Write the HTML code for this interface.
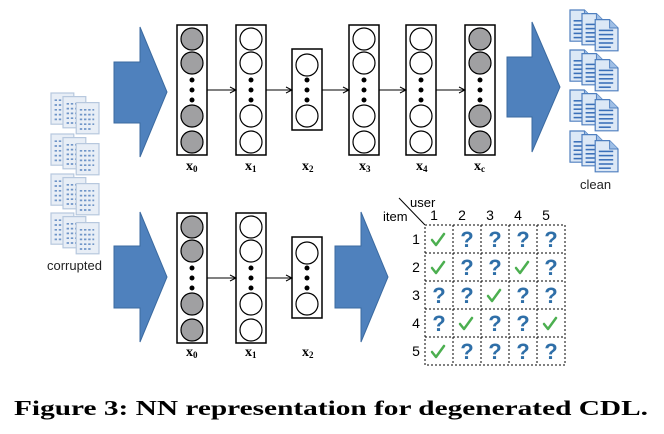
<!DOCTYPE html>
<html><head><meta charset="utf-8"><style>
html,body{margin:0;padding:0;background:#fff;}
svg{display:block;}
</style></head><body>
<svg width="664" height="434" viewBox="0 0 664 434" xmlns="http://www.w3.org/2000/svg">
<defs>
<g id="doc">
<path d="M0,0 H12 L19,7 V26 H0 Z" fill="#dce8f6" stroke="#4f7fbf" stroke-width="1"/>
<path d="M12,0 V7 H19" fill="#9fbfe6" stroke="#4f7fbf" stroke-width="0.8"/>
<g stroke="#3a6fb8" stroke-width="1.3"><line x1="3" y1="9" x2="15" y2="9"/><line x1="3" y1="12.5" x2="15" y2="12.5"/><line x1="3" y1="16" x2="15" y2="16"/><line x1="3" y1="19.5" x2="15" y2="19.5"/><line x1="3" y1="23" x2="13" y2="23"/></g>
</g>
<g id="grp"><g transform="scale(1.2)"><use href="#doc" x="0" y="0"/><use href="#doc" x="10" y="3"/><use href="#doc" x="21" y="8"/></g></g>
<g id="cdoc">
<rect x="0" y="0" width="19" height="26" fill="#e8eef6" stroke="#b7c8de" stroke-width="1"/>
<g stroke="#6f95c8" stroke-width="1.4" stroke-dasharray="2 1.5"><line x1="3" y1="6" x2="15" y2="6"/><line x1="3" y1="10" x2="15" y2="10"/><line x1="3" y1="14" x2="15" y2="14"/><line x1="3" y1="18" x2="15" y2="18"/><line x1="3" y1="22" x2="13" y2="22"/></g>
</g>
<g id="cgrp"><g transform="scale(1.2)"><use href="#cdoc" x="0" y="0"/><use href="#cdoc" x="10" y="3"/><use href="#cdoc" x="21" y="8"/></g></g>
<marker id="ar" markerWidth="8" markerHeight="8" refX="7" refY="4" orient="auto" markerUnits="userSpaceOnUse"><path d="M1,1 L7,4 L1,7" fill="none" stroke="#000" stroke-width="1"/></marker>
<g id="big4w"><rect x="0" y="0" width="30" height="130" fill="#fff" stroke="#000" stroke-width="1.5"/>
<g stroke="#000" stroke-width="1.2" fill="#fff"><circle cx="15" cy="14" r="11"/><circle cx="15" cy="38" r="11"/><circle cx="15" cy="91" r="11"/><circle cx="15" cy="117" r="11"/></g>
<g fill="#000"><circle cx="15" cy="55" r="2.5"/><circle cx="15" cy="65" r="2.5"/><circle cx="15" cy="75" r="2.5"/></g></g>
<g id="big4g"><rect x="0" y="0" width="30" height="130" fill="#fff" stroke="#000" stroke-width="1.5"/>
<g stroke="#000" stroke-width="1.2" fill="#a0a0a2"><circle cx="15" cy="14" r="11"/><circle cx="15" cy="38" r="11"/><circle cx="15" cy="91" r="11"/><circle cx="15" cy="117" r="11"/></g>
<g fill="#000"><circle cx="15" cy="55" r="2.5"/><circle cx="15" cy="65" r="2.5"/><circle cx="15" cy="75" r="2.5"/></g></g>
<g id="small"><rect x="0" y="0" width="30" height="81" fill="#fff" stroke="#000" stroke-width="1.5"/>
<g stroke="#000" stroke-width="1.2" fill="#fff"><circle cx="15" cy="16" r="11"/><circle cx="15" cy="67" r="11"/></g>
<g fill="#000"><circle cx="15" cy="31" r="2.5"/><circle cx="15" cy="41" r="2.5"/><circle cx="15" cy="51" r="2.5"/></g></g>
</defs>

<g fill="#4f81bd" stroke="#3b6aa0" stroke-width="1">
<path d="M114,62 H140 V27 L167,92 L140,157 V123 H114 Z"/>
<path d="M507,57 H532 V22 L560,87 L532,152 V117 H507 Z"/>
<path d="M114,246 H140 V212 L167,277 L140,342 V308 H114 Z"/>
<path d="M335,246 H361 V212 L388,277 L361,342 V308 H335 Z"/>
</g>

<use href="#big4g" x="177" y="25"/>
<use href="#big4w" x="236" y="25"/>
<use href="#small" x="292" y="49"/>
<use href="#big4w" x="349" y="25"/>
<use href="#big4w" x="406" y="25"/>
<use href="#big4g" x="465" y="25"/>
<g stroke="#000" stroke-width="1" marker-end="url(#ar)">
<line x1="207" y1="90" x2="236" y2="90"/><line x1="266" y1="90" x2="292" y2="90"/><line x1="322" y1="90" x2="349" y2="90"/><line x1="379" y1="90" x2="406" y2="90"/><line x1="436" y1="90" x2="465" y2="90"/>
</g>
<g font-family="Liberation Serif, serif" font-weight="bold" font-size="14" fill="#000">
<text x="186" y="170">x<tspan font-size="9" dy="2">0</tspan></text>
<text x="245" y="170">x<tspan font-size="9" dy="2">1</tspan></text>
<text x="302" y="170">x<tspan font-size="9" dy="2">2</tspan></text>
<text x="359" y="170">x<tspan font-size="9" dy="2">3</tspan></text>
<text x="416" y="170">x<tspan font-size="9" dy="2">4</tspan></text>
<text x="474" y="170">x<tspan font-size="9" dy="2">c</tspan></text>
<text x="186" y="356">x<tspan font-size="9" dy="2">0</tspan></text>
<text x="245" y="356">x<tspan font-size="9" dy="2">1</tspan></text>
<text x="302" y="356">x<tspan font-size="9" dy="2">2</tspan></text>
</g>

<use href="#big4g" x="177" y="213"/>
<use href="#big4w" x="236" y="213"/>
<use href="#small" x="292" y="237"/>
<g stroke="#000" stroke-width="1" marker-end="url(#ar)">
<line x1="207" y1="278" x2="236" y2="278"/><line x1="266" y1="278" x2="292" y2="278"/>
</g>

<use href="#grp" x="570" y="10"/>
<use href="#grp" x="570" y="50"/>
<use href="#grp" x="570" y="90"/>
<use href="#grp" x="570" y="131"/>
<text x="580" y="189" font-family="Liberation Sans, sans-serif" font-size="13" fill="#222">clean</text>
<use href="#cgrp" x="51" y="93"/>
<use href="#cgrp" x="51" y="134"/>
<use href="#cgrp" x="51" y="174"/>
<use href="#cgrp" x="51" y="213"/>
<text x="47" y="270" font-family="Liberation Sans, sans-serif" font-size="13" fill="#222">corrupted</text>

<g font-family="Liberation Sans, sans-serif" font-size="13" fill="#000">
<text x="410" y="207">user</text>
<text x="383" y="221">item</text>
<text x="434" y="220" text-anchor="middle" font-size="14">1</text>
<text x="462" y="220" text-anchor="middle" font-size="14">2</text>
<text x="490" y="220" text-anchor="middle" font-size="14">3</text>
<text x="518" y="220" text-anchor="middle" font-size="14">4</text>
<text x="546" y="220" text-anchor="middle" font-size="14">5</text>
<text x="416" y="244" text-anchor="middle" font-size="14">1</text>
<text x="416" y="272" text-anchor="middle" font-size="14">2</text>
<text x="416" y="300" text-anchor="middle" font-size="14">3</text>
<text x="416" y="328" text-anchor="middle" font-size="14">4</text>
<text x="416" y="356" text-anchor="middle" font-size="14">5</text>
</g>
<line x1="399" y1="198" x2="425" y2="225" stroke="#000" stroke-width="1"/>
<g stroke="#000" stroke-width="1" stroke-dasharray="2 2" fill="none">
<rect x="425" y="225" width="140" height="140"/>
<line x1="453" y1="225" x2="453" y2="365"/><line x1="481" y1="225" x2="481" y2="365"/><line x1="509" y1="225" x2="509" y2="365"/><line x1="537" y1="225" x2="537" y2="365"/>
<line x1="425" y1="253" x2="565" y2="253"/><line x1="425" y1="281" x2="565" y2="281"/><line x1="425" y1="309" x2="565" y2="309"/><line x1="425" y1="337" x2="565" y2="337"/>
</g>
<g font-family="Liberation Sans, sans-serif" font-weight="bold" font-size="22" fill="#2f6fa8" text-anchor="middle">
<text x="467" y="247">?</text><text x="495" y="247">?</text><text x="523" y="247">?</text><text x="551" y="247">?</text>
<text x="467" y="275">?</text><text x="495" y="275">?</text><text x="551" y="275">?</text>
<text x="439" y="303">?</text><text x="467" y="303">?</text><text x="523" y="303">?</text><text x="551" y="303">?</text>
<text x="439" y="331">?</text><text x="495" y="331">?</text><text x="523" y="331">?</text>
<text x="467" y="359">?</text><text x="495" y="359">?</text><text x="523" y="359">?</text><text x="551" y="359">?</text>
</g>
<g fill="none" stroke="#4caf50" stroke-width="2.5" stroke-linecap="round" stroke-linejoin="round">
<path d="M432,240 l4,5 l8,-11"/>
<path d="M432,268 l4,5 l8,-11"/>
<path d="M516,268 l4,5 l8,-11"/>
<path d="M488,296 l4,5 l8,-11"/>
<path d="M460,324 l4,5 l8,-11"/>
<path d="M544,324 l4,5 l8,-11"/>
<path d="M432,352 l4,5 l8,-11"/>
</g>

<text x="14" y="415" font-family="Liberation Serif, serif" font-weight="bold" font-size="21" fill="#000" textLength="634" lengthAdjust="spacingAndGlyphs">Figure 3: NN representation for degenerated CDL.</text>
</svg>
</body></html>
